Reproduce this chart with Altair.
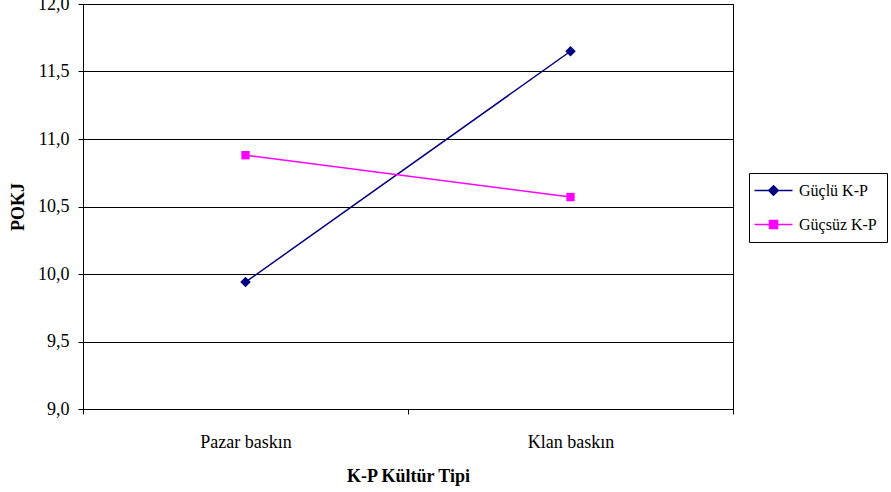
import altair as alt
import pandas as pd

categories = ["Pazar baskın", "Klan baskın"]
series_names = ["Güçlü K-P", "Güçsüz K-P"]
guclu = [9.94, 11.65]
gucsuz = [10.88, 10.57]
colors = ["#000080", "#FF00FF"]
y_ticks = [9.0, 9.5, 10.0, 10.5, 11.0, 11.5, 12.0]

rows = []
for name, vals in zip(series_names, [guclu, gucsuz]):
    for c, v in zip(categories, vals):
        rows.append({"tip": c, "seri": name, "pokj": v})
df = pd.DataFrame(rows)

FONT = "Liberation Serif"

# legend symbol geometry (in symbol units; 1 unit = 7 px at symbolSize 196)
CX = 1.0          # marker centre, shifted right of the nominal symbol centre
L0, L1 = -1.714, 3.714  # line ends


def diamond(h):
    return f"M{CX},-{h}L{CX + h},0L{CX},{h}L{CX - h},0Z"


def square(h):
    return f"M{CX - h},-{h}L{CX + h},-{h}L{CX + h},{h}L{CX - h},{h}Z"


line_path = f"M{L0},0L{L1},0"
leg_paths = [
    line_path + "".join(diamond(h) for h in (0.68, 0.46, 0.24)),
    line_path + "".join(square(h) for h in (0.57, 0.38, 0.19)),
]

x_enc = alt.X(
    "tip:N",
    sort=categories,
    scale=alt.Scale(paddingInner=0, paddingOuter=0),
    axis=alt.Axis(
        title="K-P Kültür Tipi",
        labelAngle=0,
        tickBand="extent",
        tickSize=5,
        labelPadding=19,
        titlePadding=16,
        labelFontSize=18,
        titleFontSize=18,
        titleFontWeight="bold",
        grid=False,
    ),
)
y_enc = alt.Y(
    "pokj:Q",
    scale=alt.Scale(domain=[9, 12], nice=False, zero=False),
    axis=alt.Axis(
        title="POKJ",
        values=y_ticks,
        labelExpr="replace(format(datum.value, '.1f'), '.', ',')",
        tickSize=5,
        labelPadding=9,
        titlePadding=10,
        labelFontSize=18,
        titleFontSize=18,
        titleFontWeight="bold",
        grid=True,
        gridColor="#000000",
        gridWidth=1,
    ),
)
color_scale = alt.Scale(domain=series_names, range=colors)

legend_cfg = alt.Legend(
    title=None,
    orient="none",
    legendX=666,
    legendY=169,
    strokeColor="#000000",
    fillColor="#ffffff",
    padding=9.5,
    symbolSize=196,
    symbolStrokeWidth=1.5,
    symbolOpacity=1,
    labelFont=FONT,
    labelFontSize=16,
    labelOffset=24.5,
    rowPadding=18,
)

legend_layer = alt.Chart(df).mark_point(filled=False, opacity=0).encode(
    x=x_enc,
    y=y_enc,
    color=alt.Color("seri:N", scale=color_scale, legend=legend_cfg),
    shape=alt.Shape("seri:N", scale=alt.Scale(domain=series_names, range=leg_paths), legend=legend_cfg),
)

lines = alt.Chart(df).mark_line(strokeWidth=1.5).encode(
    x=x_enc,
    y=y_enc,
    color=alt.Color("seri:N", scale=color_scale, legend=None),
)

pts_a = alt.Chart(df).transform_filter(
    alt.datum.seri == series_names[0]
).mark_point(filled=True, opacity=1, shape="diamond", size=110).encode(
    x=x_enc,
    y=y_enc,
    color=alt.Color("seri:N", scale=color_scale, legend=None),
)
pts_b = alt.Chart(df).transform_filter(
    alt.datum.seri == series_names[1]
).mark_point(filled=True, opacity=1, shape="square", size=70).encode(
    x=x_enc,
    y=y_enc,
    color=alt.Color("seri:N", scale=color_scale, legend=None),
)

chart = (
    alt.layer(legend_layer, lines, pts_a, pts_b)
    .properties(
        width=650,
        height=405,
        autosize=alt.AutoSizeParams(type="none"),
        padding={"left": 83, "top": 4, "right": 158, "bottom": 83},
        background="#ffffff",
    )
    .configure_view(stroke="#000000", strokeWidth=1)
    .configure_axis(
        labelFont=FONT,
        titleFont=FONT,
        labelColor="#000000",
        titleColor="#000000",
        domainColor="#000000",
        tickColor="#000000",
    )
)

chart.save("out.html", embed_options={"renderer": "svg", "actions": False})
